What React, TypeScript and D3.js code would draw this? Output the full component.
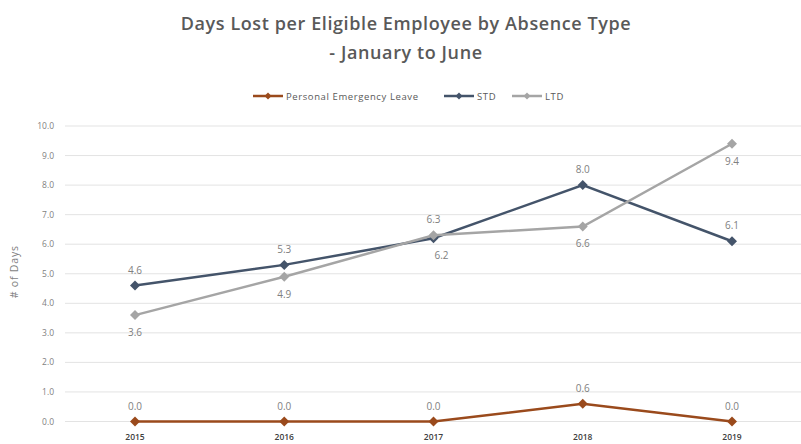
import React from "react";
import * as d3 from "d3";

const years = ["2015", "2016", "2017", "2018", "2019"];
const pel = [0.0, 0.0, 0.0, 0.6, 0.0];
const std = [4.6, 5.3, 6.2, 8.0, 6.1];
const ltd = [3.6, 4.9, 6.3, 6.6, 9.4];
const yTicks = [0, 1, 2, 3, 4, 5, 6, 7, 8, 9, 10];
const stdLabelPos = ["above", "above", "below", "above", "above"];
const ltdLabelPos = ["below", "below", "above", "below", "below"];
const pelLabelPos = ["above", "above", "above", "above", "above"];

const W = 801;
const H = 444;
const font = "'Open Sans', 'DejaVu Sans', sans-serif";

export default function App() {
  const x = d3.scalePoint<string>().domain(years).range([135, 732]);
  const y = d3.scaleLinear().domain([0, 10]).range([421.5, 126]);
  const line = d3
    .line<number>()
    .x((_, i) => x(years[i]) as number)
    .y((d) => y(d));

  const series = [
    { name: "Personal Emergency Leave", data: pel, color: "#9a4a1c", pos: pelLabelPos },
    { name: "STD", data: std, color: "#44546a", pos: stdLabelPos },
    { name: "LTD", data: ltd, color: "#a5a5a5", pos: ltdLabelPos },
  ];

  const diamond = (cx: number, cy: number, r: number) =>
    `M${cx},${cy - r}L${cx + r},${cy}L${cx},${cy + r}L${cx - r},${cy}Z`;

  const legend = [
    { name: "Personal Emergency Leave", color: "#9a4a1c", x0: 253 },
    { name: "STD", color: "#44546a", x0: 444 },
    { name: "LTD", color: "#a5a5a5", x0: 512 },
  ];

  return (
    <svg width={W} height={H} style={{ position: "absolute", left: 0, top: 0, background: "#fff" }}>
      <text x={406} y={30} textAnchor="middle" fontFamily={font} fontSize={18} fontWeight={600} fill="#595959" letterSpacing={0.6}>
        Days Lost per Eligible Employee by Absence Type
      </text>
      <text x={406} y={59} textAnchor="middle" fontFamily={font} fontSize={18} fontWeight={600} fill="#595959" letterSpacing={0.6}>
        - January to June
      </text>

      {legend.map((l) => (
        <g key={l.name}>
          <line x1={l.x0} x2={l.x0 + 30} y1={96} y2={96} stroke={l.color} strokeWidth={2.5} />
          <path d={diamond(l.x0 + 15, 96, 3.5)} fill={l.color} />
          <text x={l.x0 + 33} y={99.5} fontFamily={font} fontSize={9.5} fill="#595959" letterSpacing={0.6}>
            {l.name}
          </text>
        </g>
      ))}

      {yTicks.map((t) => (
        <g key={t}>
          <line x1={65} x2={801} y1={y(t)} y2={y(t)} stroke="#e3e3e3" strokeWidth={1} />
          <text x={54} y={y(t) + 3} textAnchor="end" fontFamily={font} fontSize={8.5} fill="#7f7f7f">
            {t.toFixed(1)}
          </text>
        </g>
      ))}

      <text
        transform={`translate(18,${y(5) - 2}) rotate(-90)`}
        textAnchor="middle"
        fontFamily={font}
        fontSize={10.5}
        fill="#7f7f7f"
        letterSpacing={0.8}
      >
        # of Days
      </text>

      {years.map((yr) => (
        <text key={yr} x={x(yr)} y={440} textAnchor="middle" fontFamily={font} fontSize={8.5} fontWeight={600} fill="#404040">
          {yr}
        </text>
      ))}

      {series.map((s) => (
        <g key={s.name}>
          <path d={line(s.data) || ""} fill="none" stroke={s.color} strokeWidth={2.5} />
          {s.data.map((v, i) => (
            <path key={i} d={diamond(x(years[i]) as number, y(v), 5)} fill={s.color} />
          ))}
        </g>
      ))}

      {series.map((s) =>
        s.data.map((v, i) => (
          <text
            key={s.name + i}
            x={(x(years[i]) as number) + (s.pos[i] === "below" && s.name !== "LTD" ? 8 : 0)}
            y={s.pos[i] === "above" ? y(v) - 12 : y(v) + 21}
            textAnchor="middle"
            fontFamily={font}
            fontSize={10}
            fill="#808080"
          >
            {v.toFixed(1)}
          </text>
        ))
      )}
    </svg>
  );
}
